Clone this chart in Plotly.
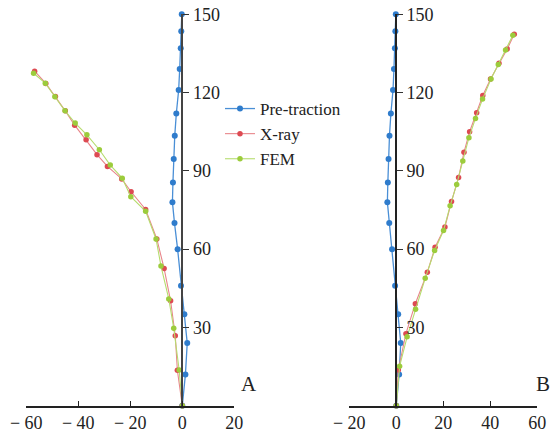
import plotly.graph_objects as go

# ---- data ----
pre_x = [0, 1.2, 1.9, 0.8, -0.5, -1.8, -3.0, -3.8, -3.6, -3.3, -2.9, -2.3, -1.4, -1.0, -0.6, -0.4, -0.2]
pre_y = [0, 12, 24, 35, 46, 60, 70, 78, 85.5, 94.5, 103.5, 112, 121, 129, 137, 143.5, 150]

a_xray_x = [0, -1.9, -2.7, -4.5, -7.0, -9.8, -14.1, -19.7, -23.3, -28.8, -32.8, -37.0, -41.4, -45.0, -48.8, -52.5, -56.8]
a_xray_y = [0, 13.6, 26.8, 40.2, 52.6, 63.9, 75.2, 82.0, 86.9, 91.7, 96.2, 101.9, 107.5, 113.0, 118.5, 123.5, 128.2]

a_fem_x = [0, -1.2, -3.3, -5.2, -8.2, -10.1, -14.1, -19.8, -23.1, -27.7, -31.9, -36.7, -41.2, -45.1, -49.0, -52.7, -57.2]
a_fem_y = [0, 13.7, 29.7, 40.9, 53.5, 63.9, 74.5, 80.1, 87.2, 92.2, 98.1, 103.8, 108.3, 113.0, 118.4, 123.6, 127.4]

b_xray_x = [0, 0.85, 4.1, 8.1, 13.2, 16.5, 20.7, 23.5, 26.5, 28.8, 31.2, 34.2, 36.8, 40.1, 43.7, 47.2, 50.2]
b_xray_y = [0, 13.7, 27.6, 39.1, 51.1, 60.7, 68.5, 78.3, 87.5, 97.1, 105.0, 112.3, 118.9, 125.2, 131.2, 136.7, 142.4]

b_fem_x = [0, 1.4, 4.6, 8.2, 12.3, 16.3, 20.1, 22.9, 25.7, 28.3, 30.9, 33.7, 36.7, 40.3, 43.4, 46.5, 49.6]
b_fem_y = [0, 15.1, 26.4, 37.0, 48.8, 59.5, 67.1, 76.6, 84.8, 93.8, 102.7, 110.1, 117.5, 125.2, 130.8, 136.3, 142.0]

a_xticks = [-60, -40, -20, 0, 20]
b_xticks = [-20, 0, 20, 40, 60]
yticks = [30, 60, 90, 120, 150]

names = ["Pre-traction", "X-ray", "FEM"]
colors = ["#2f7ccc", "#dd4a52", "#9ccc3c"]
line_colors = ["#4a8fd6", "#e8858a", "#b6dc6e"]

W, H = 560, 431
OFF = 8  # page body margin offset


def fx(px):
    return (px - OFF) / W


def fy(py):
    return (H - (py - OFF)) / H


def ticktext(vals):
    return [("\u2212 " + str(abs(v))) if v < 0 else str(v) for v in vals]


fig = go.Figure()

panels = [
    ("x", "y", pre_x, pre_y, a_xray_x, a_xray_y, a_fem_x, a_fem_y, True),
    ("x2", "y2", pre_x, pre_y, b_xray_x, b_xray_y, b_fem_x, b_fem_y, False),
]
for xa, ya, px_, py_, rx, ry, fx_, fy_, show in panels:
    series = [(px_, py_), (rx, ry), (fx_, fy_)]
    for i, (sx, sy) in enumerate(series):
        fig.add_trace(go.Scatter(
            x=sx, y=sy, mode="lines+markers", name=names[i],
            xaxis=xa, yaxis=ya, showlegend=show, legendgroup=names[i],
            line=dict(color=line_colors[i], width=1.3 if i == 0 else 1.1),
            marker=dict(color=colors[i], size=6 if i == 0 else 5.5),
            cliponaxis=False,
        ))

font_family = "Liberation Serif, Times New Roman, serif"
tickfont = dict(family=font_family, size=18, color="#222")

ydom = [fy(405.7), fy(14.3)]

fig.update_layout(
    width=W, height=H,
    margin=dict(l=0, r=0, t=0, b=0, pad=0, autoexpand=False),
    paper_bgcolor="white", plot_bgcolor="white",
    font=dict(family=font_family, size=18, color="#222"),
    showlegend=True,
    legend=dict(x=fx(220), y=fy(91), xanchor="left", yanchor="top",
                bgcolor="rgba(0,0,0,0)", font=dict(family=font_family, size=17, color="#222"),
                itemwidth=30, tracegroupgap=0),
    xaxis=dict(domain=[fx(26.3), fx(234.3)], range=[-60, 20], anchor="y",
               tickvals=a_xticks, ticktext=ticktext(a_xticks), ticks="inside", ticklen=5,
               tickcolor="#222", showline=True, linecolor="#222", linewidth=1.6,
               showgrid=False, zeroline=False, tickfont=tickfont, automargin=False,
               ticklabeloverflow="allow"),
    yaxis=dict(domain=ydom, range=[0, 150], anchor="free", position=fx(182.3), side="right",
               tickvals=yticks, ticks="outside", ticklen=6, tickcolor="#333",
               showline=True, linecolor="#444", linewidth=2.2,
               showgrid=False, zeroline=False, tickfont=tickfont, automargin=False,
               ticklabeloverflow="allow"),
    xaxis2=dict(domain=[fx(349.3), fx(537.3)], range=[-20, 60], anchor="y2",
                tickvals=b_xticks, ticktext=ticktext(b_xticks), ticks="inside", ticklen=5,
                tickcolor="#222", showline=True, linecolor="#222", linewidth=1.6,
                showgrid=False, zeroline=False, tickfont=tickfont, automargin=False,
                ticklabeloverflow="allow"),
    yaxis2=dict(domain=ydom, range=[0, 150], anchor="free", position=fx(396), side="right",
                tickvals=yticks, ticks="outside", ticklen=6, tickcolor="#333",
                showline=True, linecolor="#222", linewidth=2.0,
                showgrid=False, zeroline=False, tickfont=tickfont, automargin=False,
                ticklabeloverflow="allow"),
    annotations=[
        dict(text="A", x=fx(249), y=fy(398), xref="paper", yref="paper",
             showarrow=False, font=dict(family=font_family, size=21, color="#222")),
        dict(text="B", x=fx(551.5), y=fy(398), xref="paper", yref="paper",
             showarrow=False, font=dict(family=font_family, size=21, color="#222")),
    ],
)

fig.write_html("out.html")
